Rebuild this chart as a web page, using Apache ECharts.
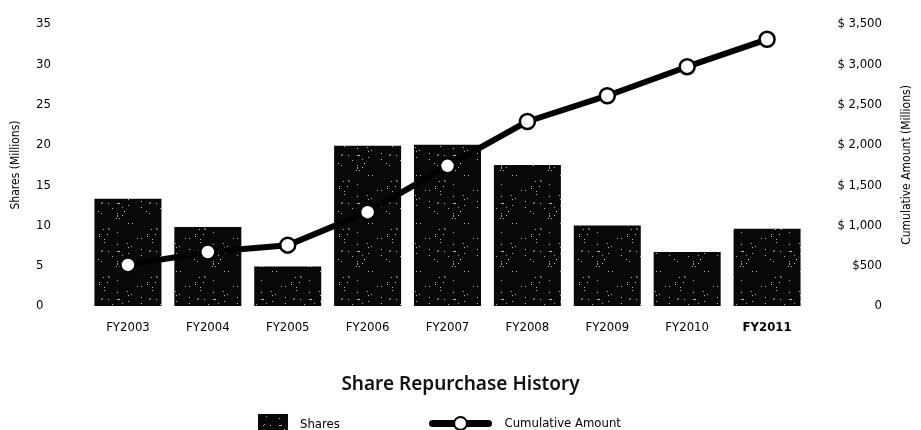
<!DOCTYPE html>
<html>
<head>
<meta charset="utf-8">
<script src="https://cdn.jsdelivr.net/npm/echarts@6/dist/echarts.min.js"></script>
<style>
  html, body { margin: 0; padding: 0; background: #fff; }
  #chart { width: 921px; height: 430px; }
</style>
</head>
<body>
<div id="chart"></div>
<script>
const years = ['FY2003', 'FY2004', 'FY2005', 'FY2006', 'FY2007', 'FY2008', 'FY2009', 'FY2010', 'FY2011']
const shares = [13.3, 9.8, 4.9, 19.9, 20.0, 17.5, 10.0, 6.7, 9.6]
const cumulative = [510, 670, 755, 1165, 1740, 2290, 2610, 2970, 3310]

const FONT = 'DejaVu Sans Condensed'

// black fill with white specks, like the printed bars
function speckle () {
  const c = document.createElement('canvas')
  c.width = c.height = 48
  const g = c.getContext('2d')
  g.fillStyle = '#080808'
  g.fillRect(0, 0, 48, 48)
  g.fillStyle = 'rgba(255,255,255,0.7)'
  let s = 7
  for (let i = 0; i < 38; i++) {
    s = (s * 9301 + 49297) % 233280
    const x = Math.floor(s / 233280 * 48)
    s = (s * 9301 + 49297) % 233280
    const y = Math.floor(s / 233280 * 48)
    g.fillRect(x, y, 1, 1)
  }
  return c
}

function money (v) {
  if (v === 0) return '0'
  if (v === 500) return '$500'
  return '$ ' + v.toLocaleString('en-US')
}

const chart = echarts.init(document.getElementById('chart'))
chart.setOption({
  backgroundColor: '#fff',
  animation: false,
  title: {
    text: 'Share Repurchase History',
    left: 'center',
    top: 370,
    textStyle: { fontFamily: 'Noto Sans', fontSize: 19, fontWeight: 600, color: '#111' }
  },
  legend: [
    {
      data: [{ name: 'Shares', icon: 'rect' }],
      left: 253,
      top: 409,
      itemWidth: 30,
      itemHeight: 21,
      textStyle: { fontFamily: FONT, fontSize: 13, color: '#000', padding: [0, 0, 0, 7] }
    },
    {
      data: ['Cumulative Amount'],
      left: 424,
      top: 411,
      itemWidth: 56,
      itemHeight: 16,
      lineStyle: { width: 7, color: '#000', cap: 'round' },
      itemStyle: { color: '#fff', borderColor: '#000', borderWidth: 2 },
      textStyle: { fontFamily: FONT, fontSize: 13, color: '#000', padding: [0, 0, 0, 11] }
    }
  ],
  grid: { left: 88, right: 109, top: 24, bottom: 124 },
  xAxis: {
    type: 'category',
    data: years.map(function (y) {
      return y === 'FY2011' ? { value: y, textStyle: { fontWeight: 'bold' } } : y
    }),
    axisLine: { show: false },
    axisTick: { show: false },
    axisLabel: { fontFamily: FONT, fontSize: 13, color: '#000', margin: 15, interval: 0 }
  },
  yAxis: [
    {
      type: 'value',
      min: 0,
      max: 35,
      interval: 5,
      name: 'Shares (Millions)',
      nameLocation: 'middle',
      nameRotate: 90,
      nameGap: 66,
      nameTextStyle: { fontFamily: FONT, fontSize: 12, color: '#000' },
      splitLine: { show: false },
      axisLine: { show: false },
      axisTick: { show: false },
      axisLabel: { fontFamily: FONT, fontSize: 13, color: '#000', align: 'left', margin: 52 }
    },
    {
      type: 'value',
      min: 0,
      max: 3500,
      interval: 500,
      name: 'Cumulative Amount (Millions)',
      nameLocation: 'middle',
      nameRotate: 90,
      nameGap: 94,
      nameTextStyle: { fontFamily: FONT, fontSize: 12, color: '#000' },
      splitLine: { show: false },
      axisLine: { show: false },
      axisTick: { show: false },
      axisLabel: { fontFamily: FONT, fontSize: 13, color: '#000', align: 'right', margin: 75, formatter: money }
    }
  ],
  series: [
    {
      name: 'Shares',
      type: 'bar',
      barWidth: 67,
      itemStyle: { color: { image: speckle(), repeat: 'repeat' } },
      data: shares
    },
    {
      name: 'Cumulative Amount',
      type: 'line',
      yAxisIndex: 1,
      z: 5,
      symbol: 'circle',
      symbolSize: 15,
      lineStyle: { color: '#000', width: 6 },
      itemStyle: { color: '#fff', borderColor: '#000', borderWidth: 2.5 },
      data: cumulative
    }
  ]
})
</script>
</body>
</html>
